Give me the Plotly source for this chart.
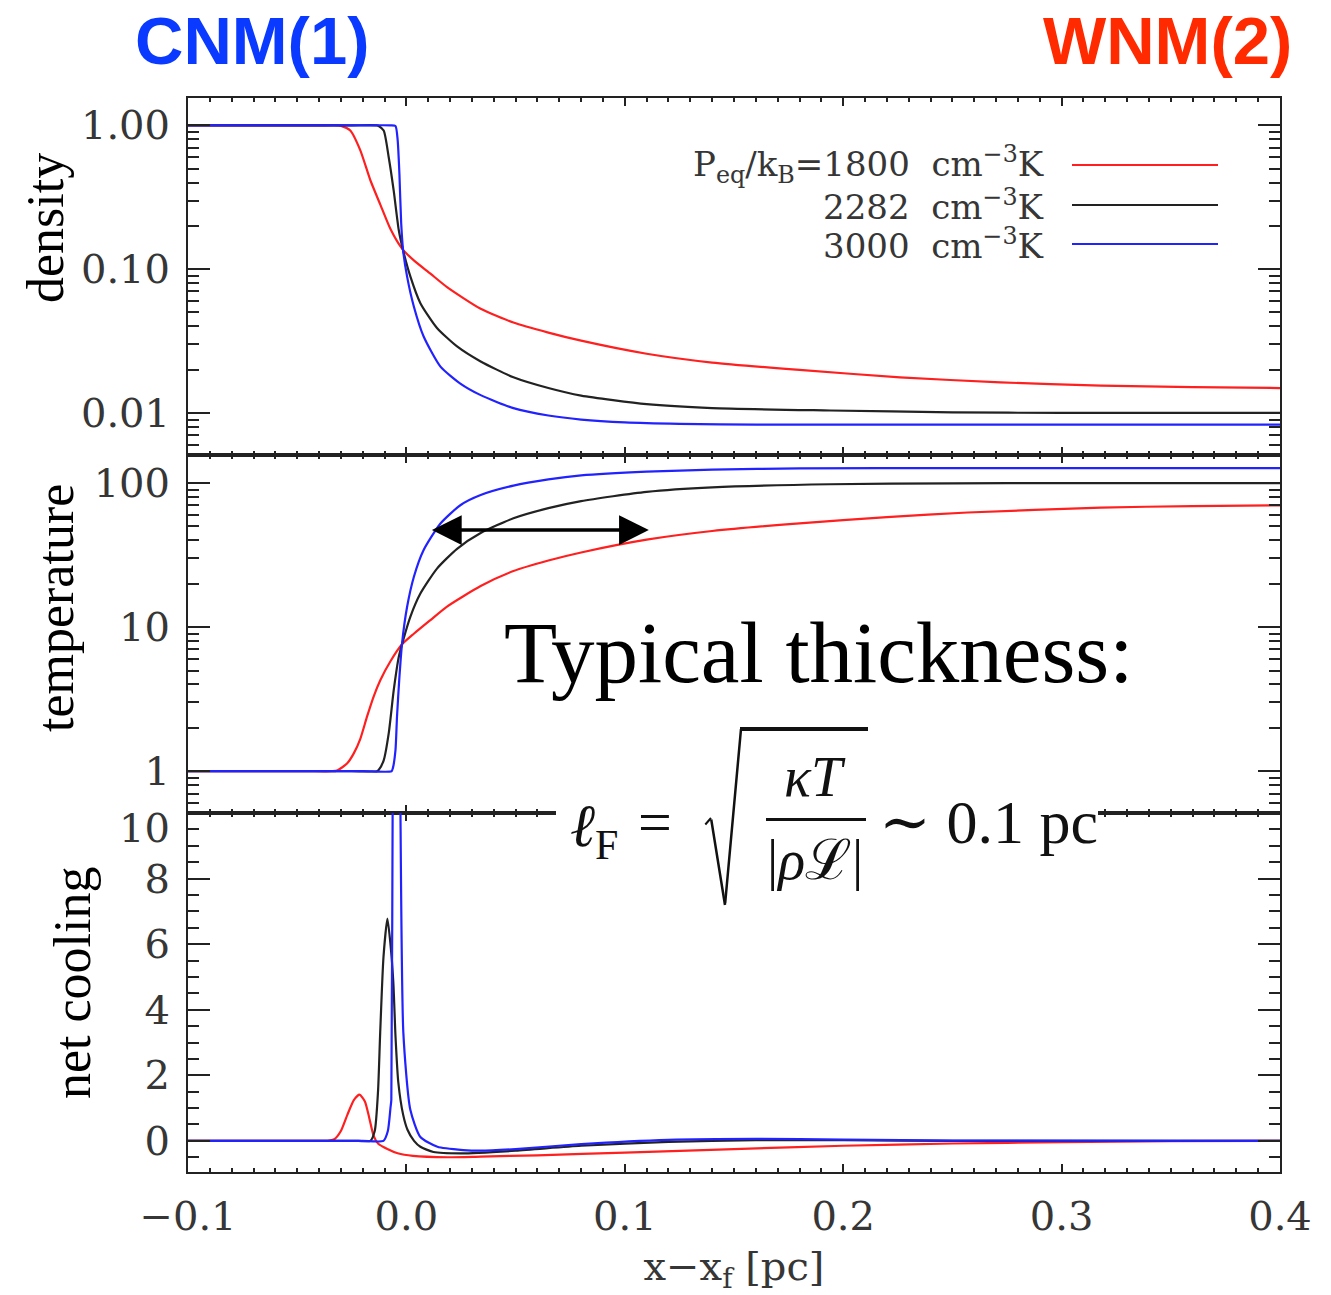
import numpy as np
import plotly.graph_objects as go

# ---------------- data: front profiles for three equilibrium pressures ----------------
series_names = ["1800", "2282", "3000"]
series_colors = ["#ff1f1f", "#222222", "#2222ff"]

# density profiles
x_den_1800 = [-0.1, -0.06, -0.04, -0.031, -0.0302, -0.0257, -0.0211, -0.0165, -0.0119, -0.0073, -0.002,
              0.0034, 0.011, 0.0186, 0.034, 0.049, 0.065, 0.080, 0.110, 0.140, 0.180, 0.226, 0.272,
              0.318, 0.36, 0.4]
den_1800 = [1.0, 1.0, 1.0, 1.0, 0.995, 0.92, 0.67, 0.415, 0.28, 0.19, 0.139,
            0.115, 0.093, 0.075, 0.053, 0.0425, 0.0362, 0.0318, 0.0258, 0.0224, 0.0199, 0.0177, 0.0163,
            0.0155, 0.0151, 0.0149]

x_den_2282 = [-0.1, -0.05, -0.025, -0.0135, -0.0127, -0.0104, -0.0081, -0.0058, -0.0035, -0.0015, 0.0018,
              0.0064, 0.014, 0.0232, 0.034, 0.049, 0.065, 0.080, 0.110, 0.140, 0.194, 0.25, 0.3, 0.4]
den_2282 = [1.0, 1.0, 1.0, 1.0, 0.99, 0.92, 0.60, 0.35, 0.187, 0.135, 0.089,
            0.058, 0.039, 0.029, 0.0228, 0.0177, 0.0149, 0.0132, 0.0115, 0.0108, 0.0104, 0.0101, 0.0100, 0.0100]

x_den_3000 = [-0.1, -0.05, -0.02, -0.0073, -0.005, -0.004, -0.0032, -0.0024, -0.0015, 0.0003, 0.0034,
              0.0079, 0.0156, 0.0247, 0.034, 0.049, 0.065, 0.080, 0.100, 0.125, 0.16, 0.25, 0.4]
den_3000 = [1.0, 1.0, 1.0, 1.0, 0.99, 0.79, 0.46, 0.21, 0.135, 0.089, 0.055,
            0.034, 0.021, 0.016, 0.0133, 0.0108, 0.0096, 0.0090, 0.0086, 0.0084, 0.0083, 0.0083, 0.0083]

# temperature profiles
x_tem_1800 = [-0.1, -0.06, -0.045, -0.034, -0.0318, -0.0272, -0.0241, -0.0211, -0.018, -0.015, -0.0119,
              -0.0073, -0.002, 0.0034, 0.011, 0.0186, 0.034, 0.049, 0.065, 0.080, 0.110, 0.140, 0.180,
              0.220, 0.257, 0.318, 0.36, 0.4]
tem_1800 = [1.0, 1.0, 1.0, 1.0, 1.01, 1.13, 1.33, 1.68, 2.4, 3.3, 4.3,
            5.8, 7.6, 9.0, 11.2, 13.9, 19.3, 24.5, 29.0, 33.0, 40.5, 46.5, 52.6,
            58.0, 62.5, 67.5, 69.3, 70.0]

x_tem_2282 = [-0.1, -0.05, -0.025, -0.0135, -0.0127, -0.0104, -0.0081, -0.0058, -0.0035, -0.0015, 0.0018,
              0.0064, 0.014, 0.0232, 0.034, 0.049, 0.065, 0.080, 0.110, 0.140, 0.194, 0.25, 0.3, 0.4]
tem_2282 = [1.0, 1.0, 1.0, 1.0, 1.02, 1.19, 1.83, 3.65, 6.2, 8.1, 11.8,
            17.1, 25.5, 35.0, 45.0, 57.0, 67.0, 75.0, 87.0, 93.5, 98.2, 99.5, 100.0, 100.0]

x_tem_3000 = [-0.1, -0.05, -0.02, -0.0068, -0.0062, -0.005, -0.0043, -0.0032, -0.002, 0.0003, 0.0034,
              0.0079, 0.0156, 0.0247, 0.034, 0.049, 0.065, 0.080, 0.110, 0.140, 0.18, 0.25, 0.4]
tem_3000 = [1.0, 1.0, 1.0, 1.0, 1.05, 1.4, 2.4, 4.5, 7.7, 13.8, 22.3,
            34.3, 52.4, 70.2, 82.6, 96.0, 106.0, 113.0, 120.0, 124.0, 126.5, 127.0, 127.0]

# net cooling profiles
x_cool_1800 = [-0.1, -0.07, -0.05, -0.04, -0.036, -0.033, -0.030, -0.027, -0.024, -0.0215, -0.019,
               -0.017, -0.015, -0.013, -0.0087, -0.004, 0.003, 0.019, 0.034, 0.06, 0.1, 0.15, 0.2,
               0.25, 0.3, 0.35, 0.4]
cool_1800 = [0.0, 0.0, 0.0, 0.0, 0.0, 0.05, 0.3, 0.8, 1.25, 1.41, 1.2,
             0.7, 0.15, -0.08, -0.25, -0.38, -0.46, -0.5, -0.48, -0.44, -0.36, -0.25, -0.15,
             -0.08, -0.04, -0.01, 0.0]

x_cool_2282 = [-0.1, -0.06, -0.035, -0.022, -0.0165, -0.0145, -0.013, -0.012, -0.0105, -0.0087, -0.0073,
               -0.006, -0.005, -0.0037, -0.0015, 0.0005, 0.0035, 0.0064, 0.0124, 0.025, 0.05, 0.08, 0.12,
               0.16, 0.2, 0.25, 0.4]
cool_2282 = [0.0, 0.0, 0.0, 0.0, 0.0, 0.3, 1.5, 3.3, 5.6, 6.78, 6.0,
             4.85, 3.2, 1.78, 0.8, 0.34, 0.0, -0.18, -0.34, -0.38, -0.3, -0.15, -0.03,
             0.02, 0.02, 0.0, 0.0]

x_cool_3000 = [-0.1, -0.06, -0.035, -0.02, -0.0105, -0.0085, -0.0073, -0.0069, -0.0062, -0.0045, -0.003,
               -0.0014, 0.0018, 0.0064, 0.0142, 0.026, 0.034, 0.05, 0.08, 0.12, 0.16, 0.2, 0.25, 0.4]
cool_3000 = [0.0, 0.0, 0.0, 0.0, 0.0, 0.3, 1.0, 1.25, 12.0, 18.0, 12.0,
             3.3, 0.95, 0.12, -0.18, -0.28, -0.3, -0.25, -0.1, 0.03, 0.06, 0.04, 0.01, 0.0]

x_ticks = [-0.1, 0.0, 0.1, 0.2, 0.3, 0.4]
den_ticks = [0.01, 0.1, 1.0]
den_ticktext = ["0.01", "0.10", "1.00"]
tem_ticks = [1, 10, 100]
tem_ticktext = ["1", "10", "100"]
cool_ticks = [0, 2, 4, 6, 8, 10]
cool_ticktext = ["0", "2", "4", "6", "8", ""]   # the top label is placed separately below

# ---------------- figure ----------------
W, H = 1331, 1295
L, R, T, B = 188, 51, 98, 123
PW, PH = W - L - R, H - T - B


def px(xp):
    return (xp - L) / PW


def py(yp):
    return (H - B - yp) / PH


TICKFONT = dict(family="DejaVu Serif, Liberation Serif, serif", size=40, color="#363636")
SERIF = "Liberation Serif, Times New Roman, DejaVu Serif, serif"

fig = go.Figure()

panels = [
    ("x", "y", [(x_den_1800, den_1800), (x_den_2282, den_2282), (x_den_3000, den_3000)]),
    ("x2", "y2", [(x_tem_1800, tem_1800), (x_tem_2282, tem_2282), (x_tem_3000, tem_3000)]),
    ("x3", "y3", [(x_cool_1800, cool_1800), (x_cool_2282, cool_2282), (x_cool_3000, cool_3000)]),
]
for xa, ya, curves in panels:
    for (xs, ys), name, col in zip(curves, series_names, series_colors):
        fig.add_trace(go.Scatter(
            x=xs, y=ys, xaxis=xa, yaxis=ya, mode="lines", name=name, showlegend=False,
            line=dict(color=col, width=2.2, shape="spline", smoothing=0.6),
            cliponaxis=True,
        ))

d_top = [py(455), 1.0]
d_mid = [py(813), py(455)]
d_bot = [0.0, py(813)]

common_x = dict(
    range=[-0.1, 0.4], showline=True, linewidth=2, linecolor="#222", mirror="allticks",
    ticks="inside", ticklen=8, tickwidth=2, tickcolor="#222", tickvals=x_ticks,
    minor=dict(ticks="inside", ticklen=4, tickwidth=1.5, tickcolor="#222", dtick=0.01, tick0=0),
    showgrid=False, zeroline=False, tickfont=TICKFONT, automargin=False,
)
common_y = dict(
    showline=True, linewidth=2, linecolor="#222", mirror="allticks",
    ticks="inside", ticklen=22, tickwidth=2, tickcolor="#222",
    showgrid=False, zeroline=False, tickfont=TICKFONT, ticklabelstandoff=8, automargin=False,
)

den_minor = [m * 10.0 ** e for e in (-3, -2, -1, 0) for m in range(2, 10)]
tem_minor = [m * 10.0 ** e for e in (-1, 0, 1, 2) for m in range(2, 10)]

fig.update_layout(
    width=W, height=H, margin=dict(l=L, r=R, t=T, b=B),
    paper_bgcolor="white", plot_bgcolor="white",
    xaxis=dict(common_x, domain=[0, 1], anchor="y", showticklabels=False, matches="x3"),
    xaxis2=dict(common_x, domain=[0, 1], anchor="y2", showticklabels=False, matches="x3"),
    xaxis3=dict(common_x, domain=[0, 1], anchor="y3", showticklabels=True, tickformat=".1f",
                ticklabelstandoff=8,
                title=dict(text="x−x<sub>f</sub> [pc]",
                           font=dict(family=TICKFONT["family"], size=40, color="#363636"),
                           standoff=14)),
    yaxis=dict(common_y, domain=d_top, anchor="x", type="log", range=[np.log10(0.0051), 0.19],
               tickvals=den_ticks, ticktext=den_ticktext,
               minor=dict(ticks="inside", ticklen=11, tickwidth=1.5, tickcolor="#222", tickvals=den_minor)),
    yaxis2=dict(common_y, domain=d_mid, anchor="x2", type="log", range=[-0.29, 2.195],
                tickvals=tem_ticks, ticktext=tem_ticktext,
                minor=dict(ticks="inside", ticklen=11, tickwidth=1.5, tickcolor="#222", tickvals=tem_minor)),
    yaxis3=dict(common_y, domain=d_bot, anchor="x3", range=[-0.95, 10],
                tickvals=cool_ticks, ticktext=cool_ticktext,
                minor=dict(ticks="inside", ticklen=11, tickwidth=1.5, tickcolor="#222", dtick=0.5, tick0=0)),
)

shapes = []
annotations = []


def note(text, xc, yc, size, family=SERIF, color="black", **kw):
    annotations.append(dict(text=text, x=px(xc), y=py(yc), xref="paper", yref="paper",
                            xanchor=kw.pop("xanchor", "center"), yanchor="middle", showarrow=False,
                            font=dict(family=family, size=size, color=color), **kw))


def box(x0, x1, y0, y1, color):
    # filled rectangle drawn in the annotation layer (above axis lines)
    annotations.append(dict(text=" ", x=px((x0 + x1) / 2), y=py((y0 + y1) / 2), xref="paper", yref="paper",
                            xanchor="center", yanchor="middle", showarrow=False,
                            width=x1 - x0, height=y1 - y0, bgcolor=color, borderpad=0, borderwidth=0,
                            font=dict(size=1, color=color)))


def stroke(x0, y0, x1, y1, width):
    # straight pen stroke from (x0, y0) to (x1, y1), pixel positions
    annotations.append(dict(text="", x=px(x1), y=py(y1), xref="paper", yref="paper",
                            ax=x0 - x1, ay=y0 - y1, axref="pixel", ayref="pixel",
                            showarrow=True, arrowhead=0, arrowwidth=width, arrowcolor="#111",
                            standoff=0, startstandoff=0))


# top tick label of the net-cooling axis, set just below the panel edge
note(str(cool_ticks[-1]), 172, 828, 40, family=TICKFONT["family"], color="#363636", xanchor="right")

# panel titles on the left
note("density", 45, 228, 52, textangle=-90)
note("temperature", 55, 608, 52, textangle=-90)
note("net cooling", 72, 983, 52, textangle=-90)

# phase labels above the plot
note("<b>CNM(1)</b>", 252, 41, 67, family="Liberation Sans, Arial, sans-serif", color="#0a3aff")
note("<b>WNM(2)</b>", 1167, 41, 67, family="Liberation Sans, Arial, sans-serif", color="#ff2a00")

# legend (text right-aligned, sample line to the right)
NB = "\u00a0"
legend_texts = [
    f"P<sub>eq</sub>/k<sub>B</sub>=1800{NB}{NB}cm<sup>−3</sup>K",
    f"2282{NB}{NB}cm<sup>−3</sup>K",
    f"3000{NB}{NB}cm<sup>−3</sup>K",
]
for txt, col, yl in zip(legend_texts, series_colors, [165, 205, 244]):
    note(txt, 1046, yl, 34, family=TICKFONT["family"], color="#363636", xanchor="right")
    shapes.append(dict(type="line", xref="paper", yref="paper", x0=px(1072), x1=px(1218),
                       y0=py(yl), y1=py(yl), line=dict(color=col, width=2.2)))

# double-headed arrow marking the front thickness
arrow_T = 47.2
annotations.append(dict(text="", x=0.111, y=np.log10(arrow_T), xref="x2", yref="y2",
                        ax=0.011, ay=np.log10(arrow_T), axref="x2", ayref="y2",
                        showarrow=True, arrowside="end+start", arrowhead=2, startarrowhead=2,
                        arrowsize=1.7, startarrowsize=1.7, arrowwidth=3.5, arrowcolor="black",
                        standoff=0, startstandoff=0))

note("Typical thickness:", 819, 652, 87)

# white backing behind the formula (it sits over the panel border)
box(556, 1098, 804, 822, "white")

# formula: l_F = sqrt(kappa T / |rho L|) ~ 0.1 pc
FORMF = "Liberation Serif, DejaVu Serif, serif"
note("<i>ℓ</i><sub>F</sub>", 594, 830, 60, family=FORMF, color="#111")
note("=", 655, 822, 60, family=FORMF, color="#111")
note("<i>κT</i>", 815, 777, 56, family=FORMF, color="#111")
note("|<i>ρ</i>ℒ|", 815, 860, 56, family=FORMF, color="#111")
note("∼ 0.1 pc", 988, 822, 62, family=FORMF, color="#111")

# radical sign, its overline and the fraction bar
stroke(704, 826, 711, 818, 2)
stroke(711, 818, 725, 905, 2.5)
stroke(725, 905, 741, 729, 2.5)
box(740, 868, 727, 731, "#111")
box(766, 866, 817.5, 820.5, "#111")

fig.update_layout(shapes=shapes, annotations=annotations)

fig.write_html("out.html")
